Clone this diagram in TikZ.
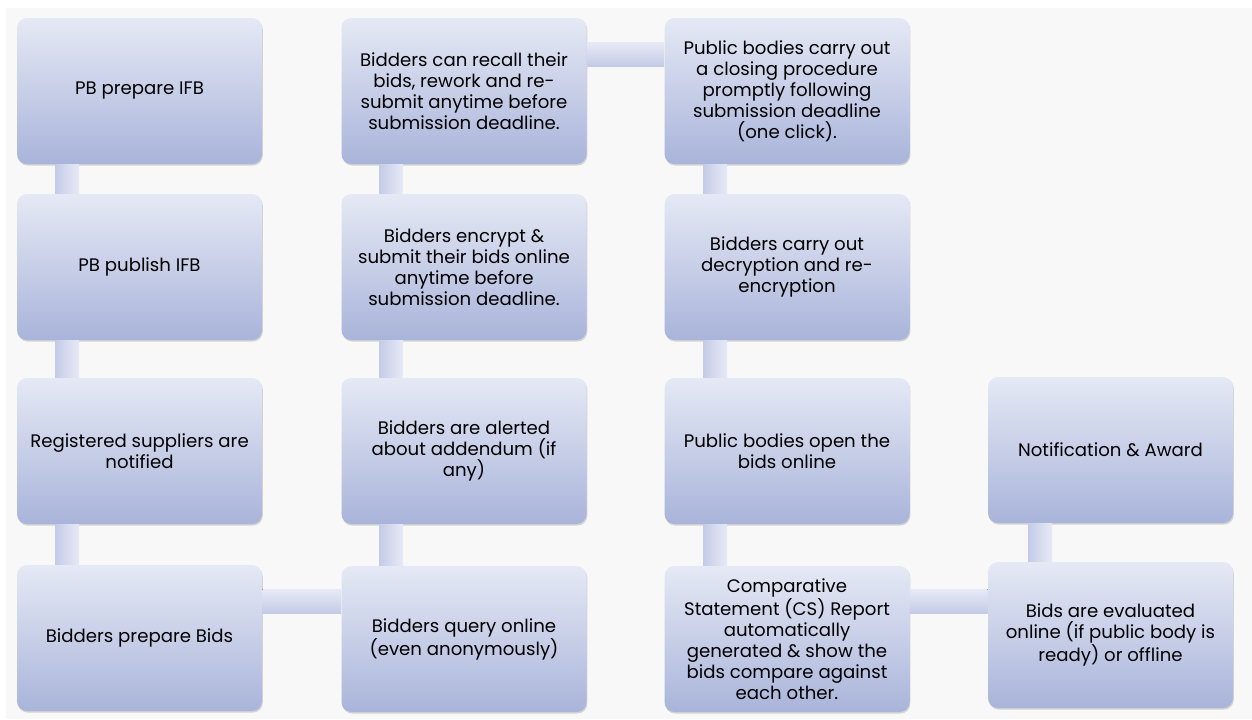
\documentclass[tikz,border=0pt]{standalone}
\usepackage{fontspec}
\setmainfont{Poppins}
\usetikzlibrary{shadows}

\definecolor{boxtop}{RGB}{229,233,245}
\definecolor{boxbot}{RGB}{169,180,218}
\definecolor{barlight}{RGB}{231,234,246}
\definecolor{bardark}{RGB}{196,203,230}
\definecolor{slide}{RGB}{248,248,248}

\tikzset{
  stepbox/.style={rounded corners=7.5pt, top color=boxtop, bottom color=boxbot,
    minimum width=183.75pt, minimum height=109.5pt, inner sep=2pt, align=center,
    font=\fontsize{13.6}{15.8}\selectfont, text=black,
    drop shadow={shadow xshift=0.6pt, shadow yshift=-1.2pt, opacity=0.3, fill=black!50}},
  vbar/.style={left color=bardark, right color=barlight},
  hbar/.style={top color=barlight, bottom color=bardark},
}

\begin{document}
\begin{tikzpicture}[x=0.75pt,y=0.75pt,yscale=-1,xscale=1]
\useasboundingbox (0,0) rectangle (1252,719);

%Shape: Slide background
\fill[white] (0,0) rectangle (1252,719);
\fill[slide] (6,8) rectangle (1252,719);

% Column 1
\node[stepbox] (ifbprep) at (139.5,91) {PB prepare IFB};
\node[stepbox] (ifbpub) at (139.5,267) {PB publish IFB};
\node[stepbox] (notif) at (139.5,451) {Registered suppliers are\\notified};
\node[stepbox] (bidprep) at (139.5,638) {Bidders prepare Bids};
% Column 2
\node[stepbox] (query) at (464,639) {Bidders query online\\(even anonymously)};
\node[stepbox] (alert) at (464,451) {Bidders are alerted\\about addendum (if\\any)};
\node[stepbox] (encrypt) at (464,267) {Bidders encrypt \&\\submit their bids online\\anytime before\\submission deadline.};
\node[stepbox] (recall) at (464,91) {Bidders can recall their\\bids, rework and re-\\submit anytime before\\submission deadline.};
% Column 3
\node[stepbox] (closing) at (787,91) {Public bodies carry out\\a closing procedure\\promptly following\\submission deadline\\(one click).};
\node[stepbox] (decrypt) at (787,267) {Bidders carry out\\decryption and re-\\encryption};
\node[stepbox] (opening) at (787,451) {Public bodies open the\\bids online};
\node[stepbox] (report) at (787,639) {Comparative\\Statement (CS) Report\\automatically\\generated \& show the\\bids compare against\\each other.};
% Column 4
\node[stepbox] (evaluate) at (1110.5,635) {Bids are evaluated\\online (if public body is\\ready) or offline};
\node[stepbox] (award) at (1110.5,450) {Notification \& Award};

%Straight Lines: bar guides
\coordinate (xa1) at (55,0);   \coordinate (xb1) at (79,0);
\coordinate (xa2) at (379,0);  \coordinate (xb2) at (403,0);
\coordinate (xa3) at (703,0);  \coordinate (xb3) at (727,0);
\coordinate (xa4) at (1028,0); \coordinate (xb4) at (1052,0);
\coordinate (ya1) at (0,42);   \coordinate (yb1) at (0,66);
\coordinate (ya4) at (0,589);  \coordinate (yb4) at (0,613);

%Straight Lines: connectors
\fill[vbar] (ifbprep.south -| xa1) rectangle (ifbpub.north -| xb1);
\fill[vbar] (ifbpub.south -| xa1) rectangle (notif.north -| xb1);
\fill[vbar] (notif.south -| xa1) rectangle (bidprep.north -| xb1);
\fill[hbar] (bidprep.east |- ya4) rectangle (query.west |- yb4);
\fill[vbar] (alert.south -| xa2) rectangle (query.north -| xb2);
\fill[vbar] (encrypt.south -| xa2) rectangle (alert.north -| xb2);
\fill[vbar] (recall.south -| xa2) rectangle (encrypt.north -| xb2);
\fill[hbar] (recall.east |- ya1) rectangle (closing.west |- yb1);
\fill[vbar] (closing.south -| xa3) rectangle (decrypt.north -| xb3);
\fill[vbar] (decrypt.south -| xa3) rectangle (opening.north -| xb3);
\fill[vbar] (opening.south -| xa3) rectangle (report.north -| xb3);
\fill[hbar] (report.east |- ya4) rectangle (evaluate.west |- yb4);
\fill[vbar] (award.south -| xa4) rectangle (evaluate.north -| xb4);

\end{tikzpicture}
\end{document}
